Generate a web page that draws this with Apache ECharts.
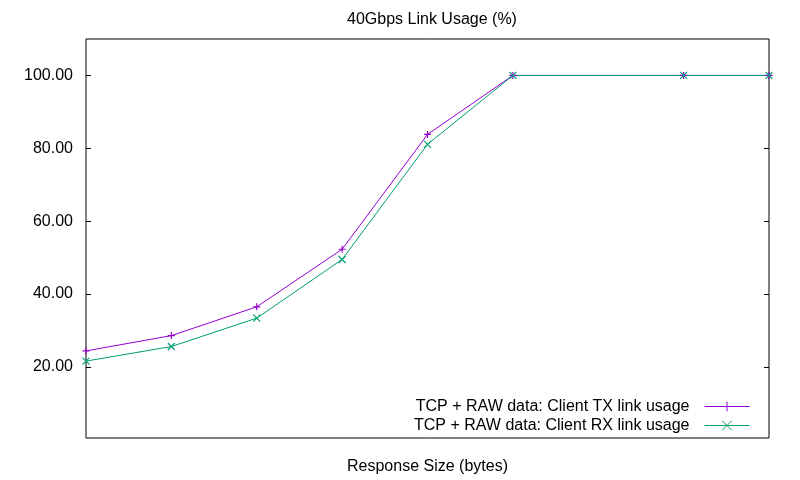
<!DOCTYPE html>
<html>
<head>
<meta charset="utf-8">
<script src="https://cdn.jsdelivr.net/npm/echarts@6/dist/echarts.min.js"></script>
<style>
    html, body { margin: 0; padding: 0; background: #fff; }
    #chart { width: 800px; height: 480px; }
</style>
</head>
<body>
<div id="chart"></div>
<script>
    // x positions of the measured response sizes (no tick labels in the original)
    var xPos = [0, 1, 2, 3, 4, 5, 7, 8];
    var txUsage = [24.4, 28.6, 36.5, 52.3, 83.8, 100, 100, 100];
    var rxUsage = [21.6, 25.6, 33.4, 49.5, 81.1, 100, 100, 100];
    var yTicks = [20, 40, 60, 80, 100];

    var plusPath = 'path://M5,0L5,10M0,5L10,5';
    var crossPath = 'path://M0,0L10,10M10,0L0,10';

    function pairs(ys) {
        return xPos.map(function (x, i) { return [x, ys[i]]; });
    }

    var chart = echarts.init(document.getElementById('chart'), null, {renderer: 'canvas'});
    var font = 'Liberation Sans, Arial, sans-serif';

    var yAxisBase = {
        type: 'value',
        min: 0.5,
        max: 110,
        axisLine: {show: false},
        splitLine: {show: false},
        axisTick: {show: true, inside: true, length: 5, customValues: yTicks,
            lineStyle: {color: '#000', width: 1}}
    };

    chart.setOption({
        animation: false,
        backgroundColor: '#fff',
        title: {
            text: '40Gbps Link Usage (%)',
            left: 427, top: 7, textAlign: 'center',
            textStyle: {fontFamily: font, fontSize: 16, fontWeight: 'normal', color: '#000'}
        },
        grid: {
            left: 86, right: 31, top: 39, bottom: 42,
            outerBoundsMode: 'none',
            show: true, borderColor: '#000', borderWidth: 1, backgroundColor: 'transparent'
        },
        legend: {
            orient: 'vertical',
            right: 50, bottom: 46,
            align: 'right',
            itemWidth: 45, itemHeight: 12, itemGap: 2,
            padding: 0,
            lineStyle: {width: 1},
            itemStyle: {borderWidth: 1},
            textStyle: {fontFamily: font, fontSize: 16, lineHeight: 17, color: '#000', padding: [0, 10, 0, 0]},
            data: ['TCP + RAW data: Client TX link usage', 'TCP + RAW data: Client RX link usage']
        },
        xAxis: {
            type: 'value',
            min: 0, max: 8,
            name: 'Response Size (bytes)',
            nameLocation: 'middle',
            nameGap: 21,
            nameTextStyle: {fontFamily: font, fontSize: 16, color: '#000'},
            axisLine: {show: false},
            axisTick: {show: false},
            axisLabel: {show: false},
            splitLine: {show: false}
        },
        yAxis: [
            Object.assign({}, yAxisBase, {
                position: 'left',
                axisLabel: {
                    show: true, customValues: yTicks, margin: 13,
                    fontFamily: font, fontSize: 16, color: '#000',
                    formatter: function (v) { return v.toFixed(2); }
                }
            }),
            Object.assign({}, yAxisBase, {
                position: 'right',
                axisLabel: {show: false}
            })
        ],
        series: [
            {
                name: 'TCP + RAW data: Client TX link usage',
                type: 'line',
                data: pairs(txUsage),
                symbol: plusPath,
                symbolSize: 7,
                color: '#9400d3',
                lineStyle: {width: 1, color: '#9400d3'},
                itemStyle: {color: '#9400d3', borderColor: '#9400d3', borderWidth: 1.2}
            },
            {
                name: 'TCP + RAW data: Client RX link usage',
                type: 'line',
                data: pairs(rxUsage),
                symbol: crossPath,
                symbolSize: 7,
                color: '#009e73',
                lineStyle: {width: 1, color: '#009e73'},
                itemStyle: {color: '#009e73', borderColor: '#009e73', borderWidth: 1.2}
            }
        ]
    });
</script>
</body>
</html>
